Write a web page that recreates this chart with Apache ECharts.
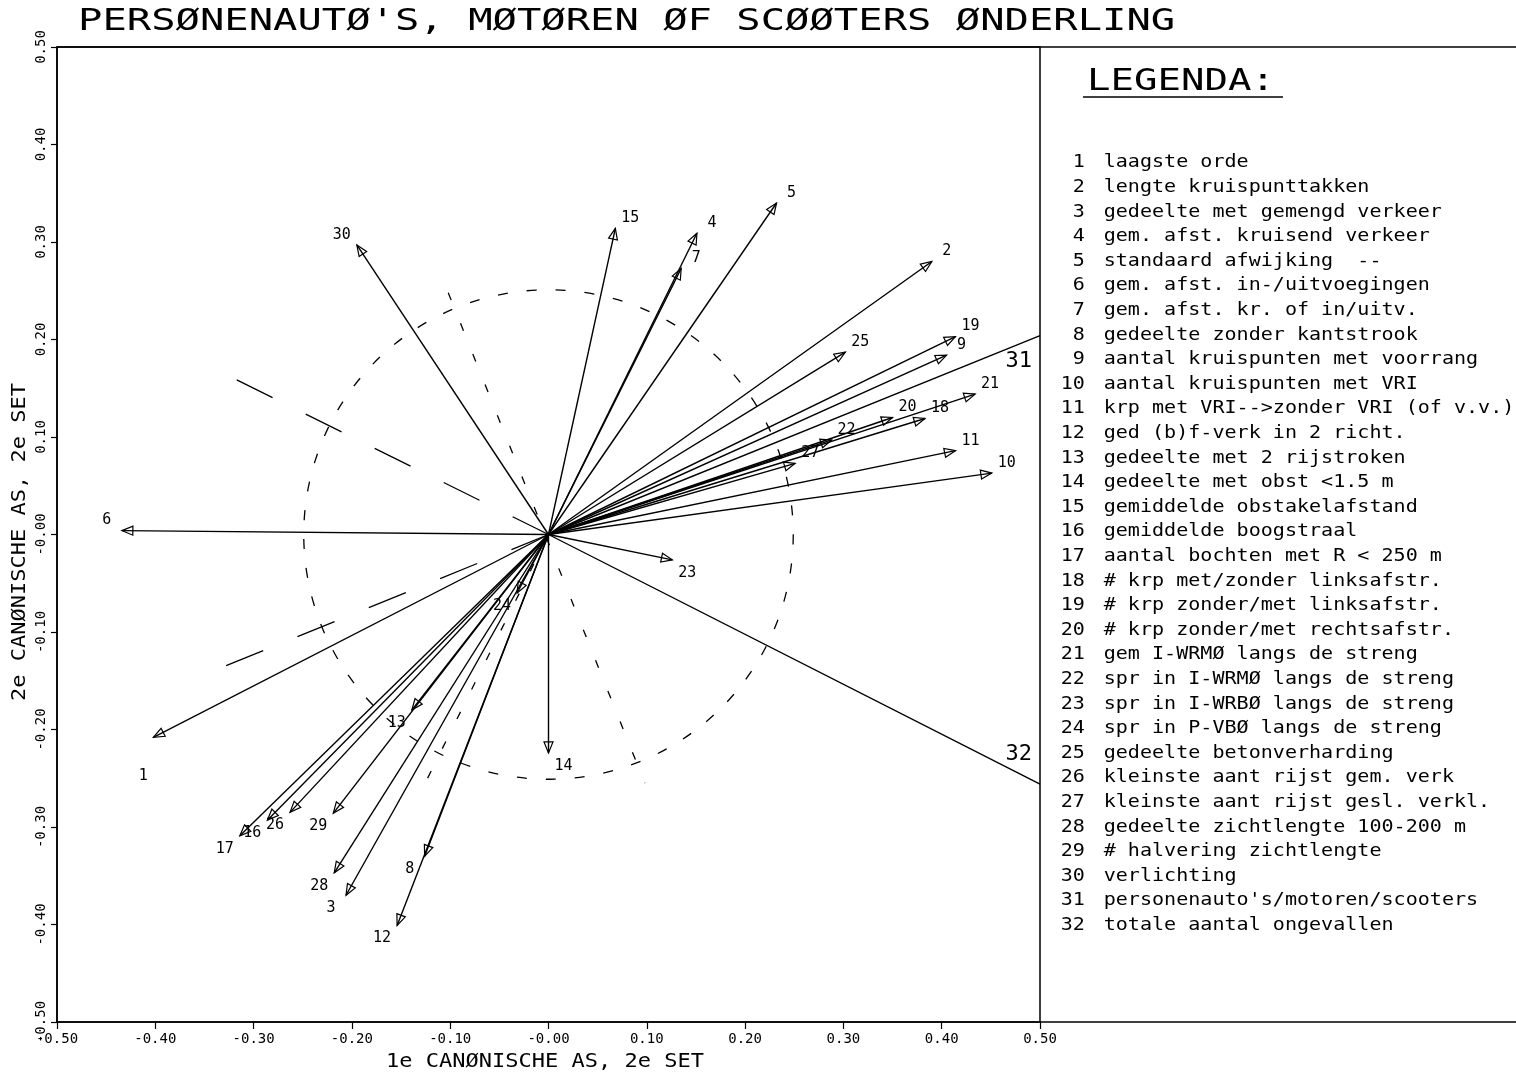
<!DOCTYPE html>
<html>
<head>
<meta charset="utf-8">
<script src="https://cdn.jsdelivr.net/npm/echarts@6/dist/echarts.min.js"></script>
<style>
html, body { margin: 0; padding: 0; background: #fff; }
#chart { width: 1516px; height: 1075px; }
</style>
</head>
<body>
<div id="chart"></div>
<script>
// variable vectors (1e / 2e canonische as)
var varNames = ['1','2','3','4','5','6','7','8','9','10','11','12','13','14','15',
                '16','17','18','19','20','21','22','23','24','25','26','27','28','29','30'];
var varX = [-0.402, 0.390, -0.206, 0.151, 0.232, -0.434, 0.135, -0.126, 0.405, 0.451,
             0.414, -0.154, -0.139, 0.000, 0.068, -0.286, -0.314, 0.383, 0.414, 0.350,
             0.434, 0.288, 0.126, -0.032, 0.302, -0.263, 0.251, -0.218, -0.219, -0.195];
var varY = [-0.208, 0.280, -0.370, 0.309, 0.340, 0.004, 0.273, -0.330, 0.184, 0.063,
             0.086, -0.401, -0.180, -0.224, 0.314, -0.293, -0.309, 0.119, 0.203, 0.120,
             0.144, 0.097, -0.026, -0.060, 0.187, -0.285, 0.073, -0.347, -0.286, 0.297];

// criterium variabelen 31 en 32
var canonNames = ['31', '32'];
var canonX = [0.500, 0.500];
var canonY = [0.204, -0.256];
var canonBackX = [-0.334, -0.334];
var canonBackY = [-0.137, 0.167];

// fijne stippellijnen door de oorsprong
var guideX1 = [-0.102, 0.000];
var guideY1 = [0.248, 0.000];
var guideX2 = [0.098, -0.124];
var guideY2 = [-0.255, -0.252];

var circleRadius = 0.25;

var tickLabels = ['-0.50','-0.40','-0.30','-0.20','-0.10','-0.00','0.10','0.20','0.30','0.40','0.50'];

var legendItems = [
    'laagste orde',
    'lengte kruispunttakken',
    'gedeelte met gemengd verkeer',
    'gem. afst. kruisend verkeer',
    'standaard afwijking  --',
    'gem. afst. in-/uitvoegingen',
    'gem. afst. kr. of in/uitv.',
    'gedeelte zonder kantstrook',
    'aantal kruispunten met voorrang',
    'aantal kruispunten met VRI',
    'krp met VRI-->zonder VRI (of v.v.)',
    'ged (b)f-verk in 2 richt.',
    'gedeelte met 2 rijstroken',
    'gedeelte met obst <1.5 m',
    'gemiddelde obstakelafstand',
    'gemiddelde boogstraal',
    'aantal bochten met R < 250 m',
    '# krp met/zonder linksafstr.',
    '# krp zonder/met linksafstr.',
    '# krp zonder/met rechtsafstr.',
    'gem I-WRMØ langs de streng',
    'spr in I-WRMØ langs de streng',
    'spr in I-WRBØ langs de streng',
    'spr in P-VBØ langs de streng',
    'gedeelte betonverharding',
    'kleinste aant rijst gem. verk',
    'kleinste aant rijst gesl. verkl.',
    'gedeelte zichtlengte 100-200 m',
    '# halvering zichtlengte',
    'verlichting',
    "personenauto's/motoren/scooters",
    'totale aantal ongevallen'
];

var MONO = "'DejaVu Sans Mono', 'Liberation Mono', monospace";

function canonicalChart() {
    var chart = echarts.init(document.getElementById('chart'), null, { renderer: 'canvas' });

    var arrowData = varX.map(function (x, i) { return [x, varY[i]]; });
    var canonData = canonX.map(function (x, i) { return [x, canonY[i]]; });
    var backData = canonBackX.map(function (x, i) { return [0, 0, x, canonBackY[i]]; });
    var guideData = guideX1.map(function (x, i) { return [x, guideY1[i], guideX2[i], guideY2[i]]; });

    function tickFormatter(v) {
        var idx = Math.round((v + 0.5) * 10);
        return tickLabels[idx] || '';
    }

    function segment(dash) {
        return function (params, api) {
            var a = api.coord([api.value(0), api.value(1)]);
            var b = api.coord([api.value(2), api.value(3)]);
            return {
                type: 'line',
                shape: { x1: a[0], y1: a[1], x2: b[0], y2: b[1] },
                style: { stroke: '#000', lineWidth: 1.3, lineDash: dash, fill: null }
            };
        };
    }

    var legendChildren = [];
    legendItems.forEach(function (txt, i) {
        legendChildren.push({
            type: 'text', x: 38, y: 163 + i * 24.6,
            style: { text: String(i + 1), font: '17px ' + MONO, fill: '#000', align: 'right', verticalAlign: 'middle' }
        });
        legendChildren.push({
            type: 'text', x: 54, y: 163 + i * 24.6,
            style: { text: txt, font: '17px ' + MONO, fill: '#000', align: 'left', verticalAlign: 'middle' }
        });
    });

    var option = {
        backgroundColor: '#fff',
        animation: false,
        grid: {
            left: 57, right: 476, top: 47, bottom: 53,
            show: true, borderColor: '#000', borderWidth: 1.5, backgroundColor: 'transparent'
        },
        xAxis: {
            type: 'value', min: -0.5, max: 0.5, interval: 0.1,
            splitLine: { show: false },
            axisLine: { onZero: false, lineStyle: { color: '#000', width: 1.5 } },
            axisTick: { length: 7, lineStyle: { color: '#000', width: 1.2 } },
            axisLabel: { formatter: tickFormatter, color: '#000', fontFamily: MONO, fontSize: 14, margin: 10 }
        },
        yAxis: {
            type: 'value', min: -0.5, max: 0.5, interval: 0.1,
            splitLine: { show: false },
            axisLine: { onZero: false, lineStyle: { color: '#000', width: 1.5 } },
            axisTick: { length: 6, lineStyle: { color: '#000', width: 1.2 } },
            axisLabel: { formatter: tickFormatter, color: '#000', fontFamily: MONO, fontSize: 14, rotate: 90, margin: 9 }
        },
        graphic: [
            {
                type: 'text', x: 78, y: 22, scaleX: 1.35,
                style: { text: "PERSØNENAUTØ'S, MØTØREN ØF SCØØTERS ØNDERLING", font: '30px ' + MONO, fill: '#000', verticalAlign: 'middle' }
            },
            { type: 'line', shape: { x1: 57, y1: 47, x2: 1516, y2: 47 }, style: { stroke: '#000', lineWidth: 1.5 } },
            { type: 'line', shape: { x1: 1040, y1: 1022, x2: 1516, y2: 1022 }, style: { stroke: '#000', lineWidth: 1.5 } },
            {
                type: 'text', x: 545, y: 1062, scaleX: 1.1,
                style: { text: '1e CANØNISCHE AS, 2e SET', font: '20px ' + MONO, fill: '#000', align: 'center', verticalAlign: 'middle' }
            },
            {
                type: 'text', x: 20, y: 542, rotation: Math.PI / 2, scaleX: 1.1,
                style: { text: '2e CANØNISCHE AS, 2e SET', font: '20px ' + MONO, fill: '#000', align: 'center', verticalAlign: 'middle' }
            },
            {
                type: 'text', x: 1087, y: 82, scaleX: 1.3,
                style: { text: 'LEGENDA:', font: '30px ' + MONO, fill: '#000', verticalAlign: 'middle' }
            },
            { type: 'line', shape: { x1: 1083, y1: 97, x2: 1283, y2: 97 }, style: { stroke: '#000', lineWidth: 1.3 } },
            {
                type: 'group', x: 1040, y: 0, scaleX: 1.18,
                children: legendChildren
            }
        ],
        series: [
            {
                // gestippelde cirkel, straal 0.25
                type: 'custom', name: 'cirkel', silent: true,
                data: [[0, 0]],
                renderItem: function (params, api) {
                    var c = api.coord([0, 0]);
                    var r = api.size([circleRadius, circleRadius]);
                    return {
                        type: 'circle',
                        shape: { cx: c[0], cy: c[1], r: (r[0] + r[1]) / 2 },
                        style: { stroke: '#000', fill: null, lineWidth: 1.3, lineDash: [10, 19] }
                    };
                }
            },
            {
                type: 'custom', name: 'hulplijnen', silent: true,
                data: guideData,
                renderItem: segment([8, 25])
            },
            {
                type: 'custom', name: 'verlengingen', silent: true,
                data: backData,
                renderItem: segment([40, 37])
            },
            {
                type: 'custom', name: 'criteria', silent: true,
                data: canonData,
                renderItem: function (params, api) {
                    var o = api.coord([0, 0]);
                    var p = api.coord([api.value(0), api.value(1)]);
                    var up = api.value(1) > 0;
                    return {
                        type: 'group',
                        children: [
                            { type: 'line', shape: { x1: o[0], y1: o[1], x2: p[0], y2: p[1] }, style: { stroke: '#000', lineWidth: 1.4 } },
                            {
                                type: 'text', x: p[0] - 8, y: p[1] + (up ? 26 : -30),
                                style: { text: canonNames[params.dataIndex], font: '22px ' + MONO, fill: '#000', align: 'right', verticalAlign: 'middle' }
                            }
                        ]
                    };
                }
            },
            {
                type: 'custom', name: 'variabelen', silent: true,
                data: arrowData,
                renderItem: function (params, api) {
                    var o = api.coord([0, 0]);
                    var p = api.coord([api.value(0), api.value(1)]);
                    var dx = p[0] - o[0], dy = p[1] - o[1];
                    var len = Math.sqrt(dx * dx + dy * dy);
                    var ux = dx / len, uy = dy / len;
                    var hl = 11, hw = 4.5;
                    var bx = p[0] - ux * hl, by = p[1] - uy * hl;
                    var head = [[p[0], p[1]], [bx - uy * hw, by + ux * hw], [bx + uy * hw, by - ux * hw]];
                    var lx = p[0] + (dx >= 0 ? 15 : -15);
                    var ly = p[1] + (dy >= 0 ? 13 : -10);
                    // label 1 staat in het origineel iets lager
                    if (params.dataIndex === 0) { lx = p[0] - 10; ly = p[1] + 39; }
                    return {
                        type: 'group',
                        children: [
                            { type: 'line', shape: { x1: o[0], y1: o[1], x2: p[0], y2: p[1] }, style: { stroke: '#000', lineWidth: 1.4 } },
                            { type: 'polygon', shape: { points: head }, style: { stroke: '#000', fill: null, lineWidth: 1.2 } },
                            {
                                type: 'text', x: lx, y: ly,
                                style: { text: varNames[params.dataIndex], font: '15px ' + MONO, fill: '#000', align: 'center', verticalAlign: 'middle' }
                            }
                        ]
                    };
                }
            }
        ]
    };

    chart.setOption(option);
}

canonicalChart();
</script>
</body>
</html>
